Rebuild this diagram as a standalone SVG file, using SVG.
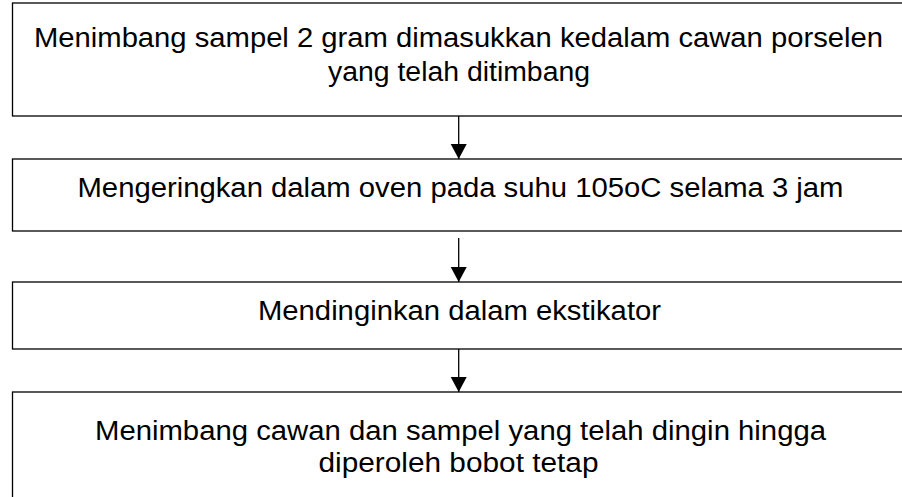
<svg xmlns="http://www.w3.org/2000/svg" width="902" height="497" viewBox="0 0 902 497">
<defs>
<style>
.box{fill:#fff;stroke:#000;stroke-width:1.3}
.t{font-family:"Liberation Sans",Arial,sans-serif;font-size:27px;fill:#000;text-anchor:middle}
.c{stroke:#000;stroke-width:1.3;fill:none}
</style>
<marker id="ah" markerUnits="userSpaceOnUse" markerWidth="16" markerHeight="17" refX="15" refY="8" orient="auto">
<path d="M0,0 L15,8 L0,16 Z" fill="#000"/>
</marker>
</defs>
<rect width="902" height="497" fill="#fff"/>
<g id="node1">
<rect class="box" x="12.5" y="3" width="900" height="113"/>
<text class="t" x="458.5" y="46.7" textLength="849" lengthAdjust="spacingAndGlyphs">Menimbang sampel 2 gram dimasukkan kedalam cawan porselen</text>
<text class="t" x="459" y="81" textLength="262" lengthAdjust="spacingAndGlyphs">yang telah ditimbang</text>
</g>
<g id="node2">
<rect class="box" x="12.5" y="159" width="900" height="72"/>
<text class="t" x="460.5" y="196.7" textLength="766" lengthAdjust="spacingAndGlyphs">Mengeringkan dalam oven pada suhu 105oC selama 3 jam</text>
</g>
<g id="node3">
<rect class="box" x="12.5" y="282" width="900" height="67"/>
<text class="t" x="459.5" y="320" textLength="403" lengthAdjust="spacingAndGlyphs">Mendinginkan dalam ekstikator</text>
</g>
<g id="node4">
<rect class="box" x="12.5" y="392" width="900" height="120"/>
<text class="t" x="460.5" y="440" textLength="731" lengthAdjust="spacingAndGlyphs">Menimbang cawan dan sampel yang telah dingin hingga</text>
<text class="t" x="458.5" y="472" textLength="280" lengthAdjust="spacingAndGlyphs">diperoleh bobot tetap</text>
</g>
<g id="connectors">
<line class="c" x1="458.7" y1="116" x2="458.7" y2="159" marker-end="url(#ah)"/>
<line class="c" x1="458.7" y1="238" x2="458.7" y2="282" marker-end="url(#ah)"/>
<line class="c" x1="458.7" y1="349" x2="458.7" y2="392" marker-end="url(#ah)"/>
</g>
</svg>
